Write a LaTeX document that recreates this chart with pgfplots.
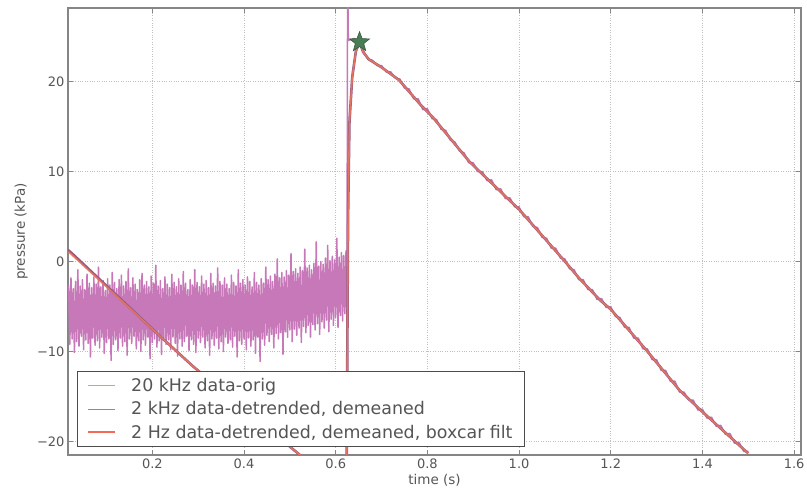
\documentclass[border=0pt]{standalone}
\usepackage{fontspec}
\setmainfont{DejaVu Sans}
\usepackage{pgfplots}
\usepackage{pgfplotstable}
\pgfplotsset{compat=1.18}

\definecolor{raw}{HTML}{C678B8}
\definecolor{detr}{HTML}{935C80}
\definecolor{filt}{HTML}{F0785F}
\definecolor{peak}{HTML}{4A7D55}
\definecolor{txt}{HTML}{555555}
\definecolor{frame}{HTML}{858585}

% filled five-pointed star marker
\pgfdeclareplotmark{fstar}{%
  \pgfpathmoveto{\pgfpointpolar{90}{\pgfplotmarksize}}%
  \pgfpathlineto{\pgfpointpolar{126}{0.42\pgfplotmarksize}}%
  \pgfpathlineto{\pgfpointpolar{162}{\pgfplotmarksize}}%
  \pgfpathlineto{\pgfpointpolar{198}{0.42\pgfplotmarksize}}%
  \pgfpathlineto{\pgfpointpolar{234}{\pgfplotmarksize}}%
  \pgfpathlineto{\pgfpointpolar{270}{0.42\pgfplotmarksize}}%
  \pgfpathlineto{\pgfpointpolar{306}{\pgfplotmarksize}}%
  \pgfpathlineto{\pgfpointpolar{342}{0.42\pgfplotmarksize}}%
  \pgfpathlineto{\pgfpointpolar{18}{\pgfplotmarksize}}%
  \pgfpathlineto{\pgfpointpolar{54}{0.42\pgfplotmarksize}}%
  \pgfpathclose\pgfusepathqfillstroke}

% 20 kHz record: noisy baseline, pressure jump, decay
\pgfplotstableread[row sep=\\]{
t p\\
0.0175 -2.6\\ 0.0200 -9.2\\ 0.0225 -1.8\\ 0.0250 -8.6\\ 0.0275 -3.0\\ 0.0300 -10.1\\ 0.0325 -2.2\\ 0.0350 -8.9\\
0.0375 -0.9\\ 0.0400 -9.4\\ 0.0425 -2.7\\ 0.0450 -8.3\\ 0.0475 -2.0\\ 0.0500 -9.8\\ 0.0525 -3.1\\ 0.0550 -8.7\\
0.0575 -1.4\\ 0.0600 -9.1\\ 0.0625 -2.4\\ 0.0650 -10.6\\ 0.0675 -2.9\\ 0.0700 -8.5\\ 0.0725 -1.7\\ 0.0750 -9.3\\
0.0775 -2.5\\ 0.0800 -8.8\\ 0.0825 -0.6\\ 0.0850 -9.6\\ 0.0875 -2.8\\ 0.0900 -8.4\\ 0.0925 -2.1\\ 0.0950 -10.2\\
0.0975 -3.2\\ 0.1000 -9.0\\ 0.1025 -1.9\\ 0.1050 -8.6\\ 0.1075 -2.6\\ 0.1100 -11.0\\ 0.1125 -1.2\\ 0.1150 -9.2\\
0.1175 -2.3\\ 0.1200 -8.7\\ 0.1225 -3.0\\ 0.1250 -9.9\\ 0.1275 -2.0\\ 0.1300 -8.5\\ 0.1325 -1.5\\ 0.1350 -9.4\\
0.1375 -2.7\\ 0.1400 -8.9\\ 0.1425 -2.2\\ 0.1450 -10.4\\ 0.1475 -0.8\\ 0.1500 -8.6\\ 0.1525 -2.9\\ 0.1550 -9.1\\
0.1575 -1.8\\ 0.1600 -8.3\\ 0.1625 -2.5\\ 0.1650 -9.7\\ 0.1675 -3.1\\ 0.1700 -8.8\\ 0.1725 -2.0\\ 0.1750 -10.0\\
0.1775 -1.3\\ 0.1800 -8.7\\ 0.1825 -2.6\\ 0.1850 -9.3\\ 0.1875 -2.2\\ 0.1900 -8.4\\ 0.1925 -2.8\\ 0.1950 -10.8\\
0.1975 -1.6\\ 0.2000 -9.0\\ 0.2025 -2.4\\ 0.2050 -8.6\\ 0.2075 -0.4\\ 0.2100 -9.5\\ 0.2125 -2.7\\ 0.2150 -8.8\\
0.2175 -2.1\\ 0.2200 -10.3\\ 0.2225 -3.0\\ 0.2250 -8.5\\ 0.2275 -1.7\\ 0.2300 -9.2\\ 0.2325 -2.5\\ 0.2350 -8.7\\
0.2375 -2.9\\ 0.2400 -9.8\\ 0.2425 -1.4\\ 0.2450 -8.4\\ 0.2475 -2.3\\ 0.2500 -9.1\\ 0.2525 -2.8\\ 0.2550 -10.5\\
0.2575 -1.9\\ 0.2600 -8.6\\ 0.2625 -2.6\\ 0.2650 -9.4\\ 0.2675 -1.1\\ 0.2700 -8.9\\ 0.2725 -2.4\\ 0.2750 -8.3\\
0.2775 -3.1\\ 0.2800 -9.9\\ 0.2825 -2.0\\ 0.2850 -8.7\\ 0.2875 -2.6\\ 0.2900 -9.2\\ 0.2925 -0.9\\ 0.2950 -10.1\\
0.2975 -2.3\\ 0.3000 -8.5\\ 0.3025 -2.8\\ 0.3050 -9.0\\ 0.3075 -1.6\\ 0.3100 -8.4\\ 0.3125 -2.5\\ 0.3150 -9.6\\
0.3175 -2.1\\ 0.3200 -8.8\\ 0.3225 -2.9\\ 0.3250 -10.4\\ 0.3275 -1.3\\ 0.3300 -8.6\\ 0.3325 -2.4\\ 0.3350 -9.3\\
0.3375 -2.7\\ 0.3400 -8.5\\ 0.3425 -0.7\\ 0.3450 -9.7\\ 0.3475 -2.2\\ 0.3500 -8.9\\ 0.3525 -2.6\\ 0.3550 -10.0\\
0.3575 -1.8\\ 0.3600 -8.4\\ 0.3625 -2.5\\ 0.3650 -9.1\\ 0.3675 -3.0\\ 0.3700 -8.7\\ 0.3725 -1.5\\ 0.3750 -9.5\\
0.3775 -2.3\\ 0.3800 -8.3\\ 0.3825 -2.7\\ 0.3850 -10.6\\ 0.3875 -0.9\\ 0.3900 -8.8\\ 0.3925 -2.4\\ 0.3950 -9.2\\
0.3975 -2.0\\ 0.4000 -8.6\\ 0.4025 -2.6\\ 0.4050 -9.8\\ 0.4075 -1.7\\ 0.4100 -8.5\\ 0.4125 -2.2\\ 0.4150 -9.4\\
0.4175 -2.8\\ 0.4200 -8.7\\ 0.4225 -1.2\\ 0.4250 -10.2\\ 0.4275 -2.3\\ 0.4300 -8.4\\ 0.4325 -2.6\\ 0.4350 -11.1\\
0.4375 -1.9\\ 0.4400 -8.6\\ 0.4425 -2.4\\ 0.4450 -9.3\\ 0.4475 -0.6\\ 0.4500 -8.2\\ 0.4525 -2.0\\ 0.4550 -8.9\\
0.4575 -1.6\\ 0.4600 -8.1\\ 0.4625 -2.2\\ 0.4650 -9.6\\ 0.4675 -1.4\\ 0.4700 -8.0\\ 0.4725 0.3\\ 0.4750 -8.6\\
0.4775 -1.8\\ 0.4800 -7.9\\ 0.4825 -1.2\\ 0.4850 -10.3\\ 0.4875 -1.7\\ 0.4900 -7.8\\ 0.4925 -1.0\\ 0.4950 -8.4\\
0.4975 -1.5\\ 0.5000 -7.6\\ 0.5025 0.9\\ 0.5050 -8.9\\ 0.5075 -1.1\\ 0.5100 -7.5\\ 0.5125 -0.8\\ 0.5150 -8.2\\
0.5175 -1.3\\ 0.5200 -7.4\\ 0.5225 -0.6\\ 0.5250 -9.0\\ 0.5275 -1.0\\ 0.5300 -7.2\\ 0.5325 1.4\\ 0.5350 -7.9\\
0.5375 -0.7\\ 0.5400 -7.1\\ 0.5425 -0.4\\ 0.5450 -8.4\\ 0.5475 -0.9\\ 0.5500 -7.0\\ 0.5525 -0.2\\ 0.5550 -7.6\\
0.5575 2.2\\ 0.5600 -6.9\\ 0.5625 -0.5\\ 0.5650 -8.1\\ 0.5675 0.0\\ 0.5700 -6.7\\ 0.5725 -0.3\\ 0.5750 -7.4\\
0.5775 0.4\\ 0.5800 -6.5\\ 0.5825 1.8\\ 0.5850 -7.8\\ 0.5875 0.1\\ 0.5900 -6.4\\ 0.5925 0.6\\ 0.5950 -7.1\\
0.5975 0.2\\ 0.6000 -6.2\\ 0.6025 2.6\\ 0.6050 -7.3\\ 0.6075 0.5\\ 0.6100 -6.0\\ 0.6125 1.0\\ 0.6150 -6.6\\
0.6175 0.7\\ 0.6200 -5.8\\ 0.6225 1.2\\ 0.6245 -6.0\\ 0.6260 32.0\\ 0.6275 24.6\\ 0.6400 24.8\\ 0.6500 24.5\\
0.66 23.5\\ 0.67 22.5\\ 0.68 22.4\\ 0.69 21.8\\ 0.70 21.8\\ 0.71 21.1\\ 0.72 21.1\\ 0.73 20.4\\
0.74 20.3\\ 0.75 19.3\\ 0.76 19.2\\ 0.77 18.1\\ 0.78 18.1\\ 0.79 16.9\\ 0.80 17.0\\ 0.81 15.9\\
0.82 15.8\\ 0.83 14.7\\ 0.84 14.6\\ 0.85 13.5\\ 0.86 13.3\\ 0.87 12.3\\ 0.88 12.1\\ 0.89 11.0\\
0.90 11.0\\ 0.91 10.0\\ 0.92 10.0\\ 0.93 9.0\\ 0.94 9.1\\ 0.95 8.0\\ 0.96 8.1\\ 0.97 7.0\\
0.98 7.1\\ 0.99 6.1\\ 1.00 6.1\\ 1.01 5.0\\ 1.02 5.0\\ 1.03 3.9\\ 1.04 3.8\\ 1.05 2.7\\
1.06 2.6\\ 1.07 1.5\\ 1.08 1.5\\ 1.09 0.4\\ 1.10 0.3\\ 1.11 -0.8\\ 1.12 -0.9\\ 1.13 -2.0\\
1.14 -2.0\\ 1.15 -3.1\\ 1.16 -3.1\\ 1.17 -4.2\\ 1.18 -4.1\\ 1.19 -5.1\\ 1.20 -5.0\\ 1.21 -6.1\\
1.22 -6.2\\ 1.23 -7.3\\ 1.24 -7.3\\ 1.25 -8.5\\ 1.26 -8.5\\ 1.27 -9.7\\ 1.28 -9.7\\ 1.29 -10.9\\
1.30 -10.9\\ 1.31 -12.1\\ 1.32 -12.1\\ 1.33 -13.3\\ 1.34 -13.3\\ 1.35 -14.5\\ 1.36 -14.5\\ 1.37 -15.4\\
1.38 -15.4\\ 1.39 -16.5\\ 1.40 -16.4\\ 1.41 -17.4\\ 1.42 -17.3\\ 1.43 -18.3\\ 1.44 -18.2\\ 1.45 -19.2\\
1.46 -19.1\\ 1.47 -20.2\\ 1.48 -20.1\\ 1.49 -21.1\\ 1.50 -21.1\\
}\twentykhz

% 2 kHz record, detrended and demeaned
\pgfplotstableread[row sep=\\]{
t p\\
0.016 1.3\\ 0.025 0.9\\ 0.217 -8.3\\ 0.290 -11.7\\ 0.522 -21.5\\ 0.6235 -26.0\\
0.627 5.0\\ 0.630 15.5\\ 0.636 20.5\\ 0.644 23.4\\ 0.652 24.4\\ 0.660 23.3\\
0.672 22.5\\ 0.700 21.6\\ 0.738 20.2\\ 0.784 17.5\\ 0.811 16.1\\ 0.892 11.1\\
1.001 5.75\\ 1.097 0.2\\ 1.132 -1.9\\ 1.177 -4.3\\ 1.200 -5.3\\ 1.277 -9.8\\
1.350 -14.3\\ 1.400 -16.7\\ 1.495 -21.1\\ 1.500 -21.3\\
}\twokhz

% boxcar-filtered record
\pgfplotstableread[row sep=\\]{
t p\\
0.017 1.1\\ 0.217 -8.3\\ 0.290 -11.7\\ 0.522 -21.5\\ 0.620 -25.9\\ 0.624 -22.0\\
0.627 5.0\\ 0.630 15.5\\ 0.636 20.5\\ 0.644 23.4\\ 0.652 24.4\\ 0.660 23.3\\
0.672 22.5\\ 0.700 21.6\\ 0.738 20.2\\ 0.784 17.5\\ 0.811 16.1\\ 0.892 11.1\\
1.001 5.75\\ 1.097 0.2\\ 1.132 -1.9\\ 1.177 -4.3\\ 1.200 -5.3\\ 1.277 -9.8\\
1.350 -14.3\\ 1.400 -16.7\\ 1.495 -21.1\\ 1.500 -21.3\\
}\twohz

\begin{document}
\begin{tikzpicture}
\path[use as bounding box] (-68pt,-41pt) rectangle (739pt,455pt);
\begin{axis}[
  scale only axis,
  width=733pt, height=447pt,
  xmin=0.016, xmax=1.615,
  ymin=-21.5, ymax=28.2,
  xtick={0.2,0.4,0.6,0.8,1.0,1.2,1.4,1.6},
  xticklabels={0.2,0.4,0.6,0.8,1.0,1.2,1.4,1.6},
  ytick={-20,-10,0,10,20},
  yticklabels={−20,−10,0,10,20},
  tick align=inside,
  major tick length=5pt,
  tick style={frame, line width=0.8pt},
  axis line style={frame, line width=1.2pt},
  grid=major,
  major grid style={gray!50, dotted, line width=0.8pt},
  ticklabel style={font=\fontsize{13}{15}\selectfont, text=txt},
  xlabel={time (s)},
  ylabel={pressure (kPa)},
  label style={font=\fontsize{13.5}{16}\selectfont, text=txt},
  xlabel style={at={(axis description cs:0.5,0)}, anchor=north, yshift=-15.5pt},
  ylabel style={at={(axis description cs:-0.064,0.5)}, anchor=center},
  legend cell align=left,
  legend image code/.code={\draw[#1] (0pt,0pt) -- (27pt,0pt);},
  legend style={
    at={(0.012,0.018)}, anchor=south west,
    draw=black!70, line width=0.8pt, fill=white,
    font=\fontsize{17.4}{20}\selectfont, text=txt,
    inner xsep=10pt, inner ysep=5pt, row sep=4.5pt,
    /tikz/every odd column/.append style={column sep=13pt},
  },
]
\addplot[raw, line width=1.5pt, line join=round,
  legend image post style={line width=0.9pt, color=raw!45!gray!70}]
  table[x=t, y=p] {\twentykhz};
\addlegendentry{20 kHz data-orig}
\addplot[detr, line width=2.6pt,
  legend image post style={line width=0.9pt, color=gray!90}]
  table[x=t, y=p] {\twokhz};
\addlegendentry{2 kHz data-detrended, demeaned}
\addplot[filt, line width=1.6pt, opacity=0.85,
  legend image post style={line width=2pt, opacity=1, color=filt!90!red}]
  table[x=t, y=p] {\twohz};
\addlegendentry{2 Hz data-detrended, demeaned, boxcar filt}
\addplot[only marks, mark=fstar, mark size=10.5pt,
  mark options={fill=peak, draw=peak!70!black, line width=0.6pt},
  forget plot] coordinates {(0.652,24.4)};
\end{axis}
\end{tikzpicture}
\end{document}
